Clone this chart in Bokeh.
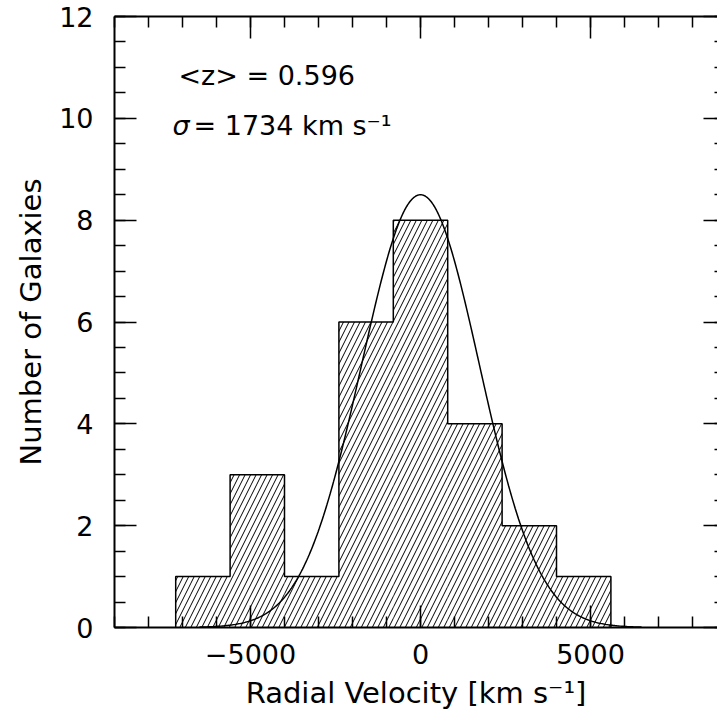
import numpy as np
from bokeh.plotting import figure
from bokeh.models import Range1d, LinearAxis, SingleIntervalTicker, Label, CustomJSTickFormatter
from bokeh.embed import file_html
from bokeh.resources import INLINE

# ---- data ----
bin_edges = [-7200, -5600, -4000, -2400, -800, 800, 2400, 4000, 5600]
counts = [1, 3, 1, 6, 8, 4, 2, 1]
gauss_peak = 8.5
gauss_center = 0.0
gauss_sigma = 1734.0
gauss_xmin, gauss_xmax = -6500, 6500
mean_z_text = "<z> = 0.596"
sigma_text = "= 1734 km s⁻¹"
x_label = "Radial Velocity [km s⁻¹]"
y_label = "Number of Galaxies"

FONT = "DejaVu Sans"

p = figure(width=717, height=719, output_backend="svg", toolbar_location=None,
           x_range=Range1d(-9000, 8735), y_range=Range1d(0, 12),
           x_axis_location=None, y_axis_location=None,
           min_border_left=114, min_border_right=0, min_border_top=16, min_border_bottom=92)
p.outline_line_color = None
p.xgrid.visible = False
p.ygrid.visible = False
p.background_fill_color = "white"
p.border_fill_color = "white"

# hatched histogram
lefts = bin_edges[:-1]
rights = bin_edges[1:]
p.quad(left=lefts, right=rights, bottom=0, top=counts, fill_color=None, line_color=None,
       hatch_pattern="/", hatch_color="black", hatch_scale=11, hatch_weight=1)

# step outline
sx, sy = [bin_edges[0]], [0]
for i, c in enumerate(counts):
    sx += [bin_edges[i], bin_edges[i + 1]]
    sy += [c, c]
sx.append(bin_edges[-1]); sy.append(0)
p.line(sx, sy, line_color="black", line_width=1.5)

# gaussian curve
gx = np.linspace(gauss_xmin, gauss_xmax, 400)
gy = gauss_peak * np.exp(-0.5 * ((gx - gauss_center) / gauss_sigma) ** 2)
p.line(gx, gy, line_color="black", line_width=1.5)

empty = CustomJSTickFormatter(code="return ''")

def style(ax, labels=True):
    ax.axis_line_width = 2
    ax.axis_line_color = "black"
    ax.major_tick_line_width = 1.5
    ax.minor_tick_line_width = 1.5
    ax.major_tick_out = 0
    ax.minor_tick_out = 0
    ax.major_tick_in = 22
    ax.minor_tick_in = 11
    if labels:
        ax.major_label_text_font = FONT
        ax.major_label_text_font_size = "27px"
        ax.major_label_text_color = "black"
        ax.axis_label_text_font = FONT
        ax.axis_label_text_font_size = "29px"
        ax.axis_label_text_font_style = "normal"
        ax.axis_label_text_color = "black"
    else:
        ax.formatter = empty
        ax.major_label_standoff = 0
        ax.axis_label_standoff = 0

xt = lambda: SingleIntervalTicker(interval=5000, num_minor_ticks=5)
yt = lambda: SingleIntervalTicker(interval=2, num_minor_ticks=4)

bottom = LinearAxis(ticker=xt(), axis_label=x_label)
style(bottom)
bottom.major_label_standoff = 16
bottom.axis_label_standoff = 9
bottom.major_label_overrides = {-5000: "−5000"}
p.add_layout(bottom, "below")

top = LinearAxis(ticker=xt())
style(top, labels=False)
p.add_layout(top, "above")

left = LinearAxis(ticker=yt(), axis_label=y_label)
style(left)
left.major_label_standoff = 21
left.axis_label_standoff = 8
p.add_layout(left, "left")

right = LinearAxis(ticker=yt())
style(right, labels=False)
right.axis_line_color = None
right.major_tick_in = 14
right.minor_tick_in = 3
p.add_layout(right, "right")

# annotations
p.add_layout(Label(x=-7118, y=10.84, text=mean_z_text, text_font=FONT, text_font_size="27px",
                   text_color="black", text_baseline="alphabetic"))
p.add_layout(Label(x=-7294, y=9.86, text="σ", text_font=FONT, text_font_size="27px",
                   text_font_style="italic", text_color="black", text_baseline="alphabetic"))
p.add_layout(Label(x=-6676, y=9.86, text=sigma_text, text_font=FONT, text_font_size="27px",
                   text_color="black", text_baseline="alphabetic"))

open("out.html", "w").write(file_html(p, INLINE))
